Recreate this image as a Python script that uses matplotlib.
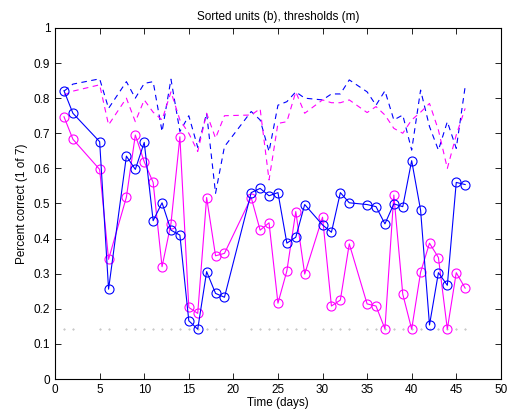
import numpy as np
import matplotlib
matplotlib.use("Agg")
import matplotlib.pyplot as plt

plt.rcParams['font.family'] = ['Liberation Sans', 'DejaVu Sans']
plt.rcParams['font.size'] = 8.5

# recording days (some days missing)
days = [1, 2, 5, 6, 8, 9, 10, 11, 12, 13, 14, 15, 16, 17, 18, 19,
        22, 23, 24, 25, 26, 27, 28, 30, 31, 32, 33, 35, 36, 37, 38, 39,
        40, 41, 42, 43, 44, 45, 46]

# sorted units, percent correct (blue)
sorted_units = [0.821, 0.757, 0.676, 0.256, 0.635, 0.597, 0.674, 0.451, 0.502, 0.424,
                0.410, 0.166, 0.142, 0.306, 0.244, 0.233,
                0.531, 0.543, 0.522, 0.531, 0.387, 0.404, 0.497, 0.439, 0.418, 0.531,
                0.502, 0.497, 0.491, 0.442, 0.499, 0.491,
                0.622, 0.481, 0.154, 0.303, 0.267, 0.560, 0.554]

# thresholds, percent correct (magenta)
thresholds = [0.747, 0.683, 0.597, 0.341, 0.518, 0.695, 0.619, 0.560, 0.320, 0.443,
              0.690, 0.204, 0.187, 0.517, 0.351, 0.358,
              0.517, 0.424, 0.445, 0.216, 0.308, 0.477, 0.299, 0.461, 0.208, 0.225,
              0.385, 0.214, 0.208, 0.143, 0.524, 0.242,
              0.142, 0.304, 0.387, 0.346, 0.142, 0.303, 0.259]

# training performance (dashed)
sorted_units_train = [0.82, 0.84, 0.855, 0.771, 0.847, 0.80, 0.842, 0.847, 0.705, 0.854,
                      0.705, 0.75, 0.66, 0.757, 0.529, 0.662,
                      0.762, 0.738, 0.648, 0.78, 0.79, 0.818, 0.80, 0.795, 0.812, 0.812,
                      0.852, 0.818, 0.78, 0.821, 0.738, 0.752,
                      0.652, 0.823, 0.719, 0.652, 0.733, 0.657, 0.833]

thresholds_train = [0.809, 0.82, 0.838, 0.724, 0.80, 0.733, 0.795, 0.76, 0.738, 0.818,
                    0.738, 0.70, 0.648, 0.757, 0.686, 0.75,
                    0.752, 0.77, 0.567, 0.728, 0.733, 0.818, 0.757, 0.795, 0.787, 0.787,
                    0.795, 0.759, 0.776, 0.752, 0.714, 0.70,
                    0.738, 0.76, 0.785, 0.709, 0.60, 0.695, 0.771]

chance = [1 / 7] * len(days)

fig = plt.figure(figsize=(5.10, 4.17), dpi=100)
ax = fig.add_axes([0.108, 0.091, 0.874, 0.842])

ax.plot(days, chance, linestyle='none', marker='.', markersize=0.8, color='#aaaaaa')
ax.plot(days, sorted_units_train, linestyle='--', color='#0000ff', linewidth=0.8, dashes=(5, 4))
ax.plot(days, thresholds_train, linestyle='--', color='#ff00ff', linewidth=0.8, dashes=(5, 4))
ax.plot(days, thresholds, '-o', color='#ff00ff', linewidth=0.8, markersize=6.5,
        markerfacecolor='none', markeredgewidth=0.8)
ax.plot(days, sorted_units, '-o', color='#0000ff', linewidth=0.8, markersize=6.5,
        markerfacecolor='none', markeredgewidth=0.8)

ax.set_xlim(0, 50)
ax.set_ylim(0, 1)
ax.set_xticks(range(0, 51, 5))
ax.set_yticks(np.arange(0, 1.01, 0.1))
ax.set_yticklabels(['0', '0.1', '0.2', '0.3', '0.4', '0.5', '0.6', '0.7', '0.8', '0.9', '1'])
ax.tick_params(direction='in', top=True, right=True, length=4, width=0.6)
for s in ax.spines.values():
    s.set_linewidth(0.8)

ax.set_title("Sorted units (b), thresholds (m)", fontsize=8.5)
ax.set_xlabel("Time (days)", labelpad=1)
ax.set_ylabel("Percent correct (1 of 7)")

plt.savefig("out.png", dpi=100)
